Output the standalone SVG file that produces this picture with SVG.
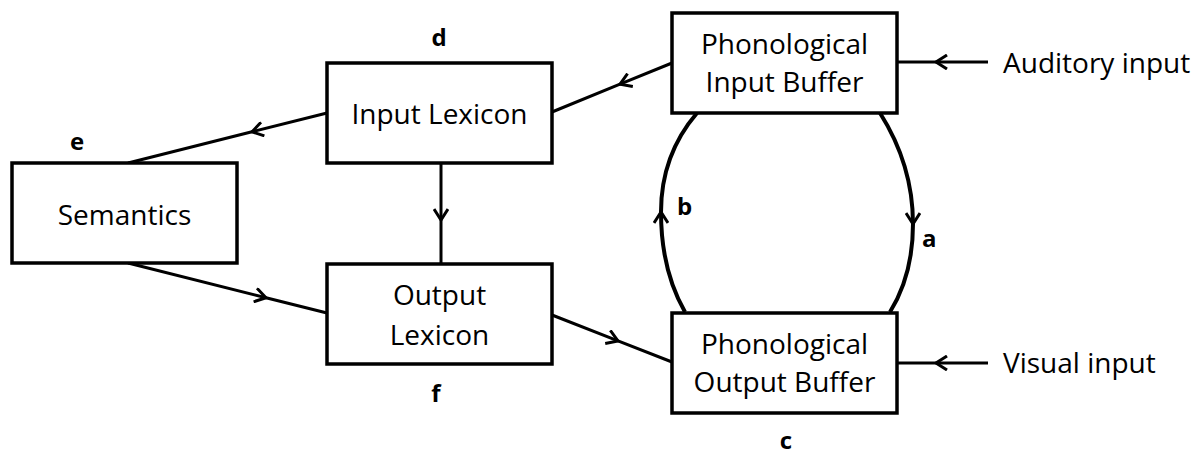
<svg xmlns="http://www.w3.org/2000/svg" width="1203" height="454" viewBox="0 0 1203 454">
<style>
.box{fill:#fff;stroke:#000;stroke-width:3.5}
.t{font-family:"Open Sans","Liberation Sans",sans-serif;font-size:28px;fill:#000;text-anchor:middle}
.tl{font-family:"Open Sans","Liberation Sans",sans-serif;font-size:28px;fill:#000}
.lb{font-family:"Open Sans","Liberation Sans",sans-serif;font-size:24px;font-weight:bold;fill:#000}
.c{fill:none;stroke:#000;stroke-width:3;marker-mid:url(#ah)}
.arc{fill:none;stroke:#000;stroke-width:4;marker-mid:url(#ah)}
</style>
<defs>
<marker id="ah" viewBox="0 0 14 16" refX="12" refY="8" markerWidth="14" markerHeight="16" markerUnits="userSpaceOnUse" orient="auto">
<path d="M1,1 L12,8 L1,15" fill="none" stroke="#000" stroke-width="3"/>
</marker>
</defs>
<rect width="1203" height="454" fill="#fff"/>
<g id="connectors">
<path class="c" d="M672,63 L620,84.2 L552,112"/>
<path class="c" d="M327,113 L252,131.8 L128,163"/>
<path class="c" d="M441,163 L441,220 L441,264"/>
<path class="c" d="M128,263 L266,297.7 L327,313"/>
<path class="c" d="M552,315 L618,340.9 L672,362"/>
<path class="c" d="M988,62 L936,62 L898,62"/>
<path class="c" d="M988,363 L936,363 L898,363"/>
<path class="arc" d="M880,113 Q913,165 913,224 Q913,275 890,312"/>
<path class="arc" d="M685,312 Q661,270 661,212 Q661,155 697,113"/>
</g>
<g id="semantics">
<rect class="box" x="12" y="163" width="225" height="100"/>
<text class="t" x="124.5" y="225">Semantics</text>
</g>
<g id="input-lexicon">
<rect class="box" x="327" y="63" width="225" height="100"/>
<text class="t" x="439.5" y="124">Input Lexicon</text>
</g>
<g id="output-lexicon">
<rect class="box" x="327" y="264" width="225" height="100"/>
<text class="t" x="439.5" y="305">Output</text>
<text class="t" x="439.5" y="345">Lexicon</text>
</g>
<g id="phon-input-buffer">
<rect class="box" x="672" y="13" width="225" height="100"/>
<text class="t" x="784.5" y="54">Phonological</text>
<text class="t" x="784.5" y="92">Input Buffer</text>
</g>
<g id="phon-output-buffer">
<rect class="box" x="672" y="313" width="225" height="100"/>
<text class="t" x="784.5" y="354">Phonological</text>
<text class="t" x="784.5" y="392">Output Buffer</text>
</g>
<g id="auditory-input">
<text class="tl" x="1003" y="73">Auditory input</text>
</g>
<g id="visual-input">
<text class="tl" x="1003" y="373">Visual input</text>
</g>
<g id="labels">
<text class="lb" x="439" y="46" text-anchor="middle">d</text>
<text class="lb" x="77" y="150" text-anchor="middle">e</text>
<text class="lb" x="436" y="402" text-anchor="middle">f</text>
<text class="lb" x="786" y="449" text-anchor="middle">c</text>
<text class="lb" x="677" y="215">b</text>
<text class="lb" x="922" y="247">a</text>
</g>
</svg>
